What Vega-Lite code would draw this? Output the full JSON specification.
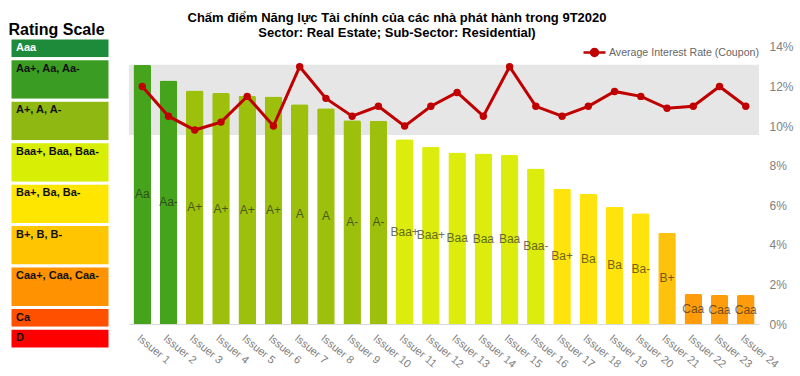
{
  "$schema": "https://vega.github.io/schema/vega-lite/v6.json",
  "padding": {"left": 8, "top": 12, "right": 5, "bottom": 0},
  "background": "white",
  "bounds": "flush",
  "spacing": 19,
  "config": {"font": "Liberation Sans", "view": {"stroke": null}},
  "datasets": {
    "scale": [
      {"ord": 1, "label": "Aaa", "grp": "Aaa", "span": 1},
      {"ord": 2, "label": "Aa+, Aa, Aa-", "grp": "Aa", "span": 2},
      {"ord": 3, "label": "A+, A, A-", "grp": "A", "span": 2},
      {"ord": 4, "label": "Baa+, Baa, Baa-", "grp": "Baa", "span": 2},
      {"ord": 5, "label": "Ba+, Ba, Ba-", "grp": "Ba", "span": 2},
      {"ord": 6, "label": "B+, B, B-", "grp": "B", "span": 2},
      {"ord": 7, "label": "Caa+, Caa, Caa-", "grp": "Caa", "span": 2},
      {"ord": 8, "label": "Ca", "grp": "Ca", "span": 1},
      {"ord": 9, "label": "D", "grp": "D", "span": 1}
    ],
    "band": [{"low": 9.55, "high": 13.1}],
    "issuers": [
      {"issuer": "Issuer 1", "rating": "Aa", "grp": "Aa", "score": 13.1, "rate": 12.0},
      {"issuer": "Issuer 2", "rating": "Aa-", "grp": "Aa", "score": 12.3, "rate": 10.5},
      {"issuer": "Issuer 3", "rating": "A+", "grp": "A", "score": 11.8, "rate": 9.8},
      {"issuer": "Issuer 4", "rating": "A+", "grp": "A", "score": 11.67, "rate": 10.2},
      {"issuer": "Issuer 5", "rating": "A+", "grp": "A", "score": 11.53, "rate": 11.5},
      {"issuer": "Issuer 6", "rating": "A+", "grp": "A", "score": 11.5, "rate": 10.0},
      {"issuer": "Issuer 7", "rating": "A", "grp": "A", "score": 11.1, "rate": 13.0},
      {"issuer": "Issuer 8", "rating": "A", "grp": "A", "score": 10.9, "rate": 11.4},
      {"issuer": "Issuer 9", "rating": "A-", "grp": "A", "score": 10.3, "rate": 10.5},
      {"issuer": "Issuer 10", "rating": "A-", "grp": "A", "score": 10.27, "rate": 11.0},
      {"issuer": "Issuer 11", "rating": "Baa+", "grp": "Baa", "score": 9.33, "rate": 10.0},
      {"issuer": "Issuer 12", "rating": "Baa+", "grp": "Baa", "score": 8.96, "rate": 11.0},
      {"issuer": "Issuer 13", "rating": "Baa", "grp": "Baa", "score": 8.67, "rate": 11.7},
      {"issuer": "Issuer 14", "rating": "Baa", "grp": "Baa", "score": 8.62, "rate": 10.5},
      {"issuer": "Issuer 15", "rating": "Baa", "grp": "Baa", "score": 8.54, "rate": 13.0},
      {"issuer": "Issuer 16", "rating": "Baa-", "grp": "Baa", "score": 7.86, "rate": 11.0},
      {"issuer": "Issuer 17", "rating": "Ba+", "grp": "Ba", "score": 6.83, "rate": 10.5},
      {"issuer": "Issuer 18", "rating": "Ba", "grp": "Ba", "score": 6.58, "rate": 11.0},
      {"issuer": "Issuer 19", "rating": "Ba", "grp": "Ba", "score": 5.93, "rate": 11.75},
      {"issuer": "Issuer 20", "rating": "Ba-", "grp": "Ba", "score": 5.59, "rate": 11.5},
      {"issuer": "Issuer 21", "rating": "B+", "grp": "B", "score": 4.61, "rate": 10.9},
      {"issuer": "Issuer 22", "rating": "Caa", "grp": "Caa", "score": 1.52, "rate": 11.0},
      {"issuer": "Issuer 23", "rating": "Caa", "grp": "Caa", "score": 1.46, "rate": 12.0},
      {"issuer": "Issuer 24", "rating": "Caa", "grp": "Caa", "score": 1.46, "rate": 11.0}
    ]
  },
  "hconcat": [
    {
      "width": 100,
      "height": 311,
      "title": {"text": "Rating Scale", "anchor": "start", "fontSize": 16, "fontWeight": "bold", "color": "#000000", "offset": -1},
      "data": {"name": "scale"},
      "transform": [
        {"stack": "span", "groupby": [], "sort": [{"field": "ord", "order": "ascending"}], "as": ["y0", "y1"]}
      ],
      "layer": [
        {
          "mark": {"type": "rect", "stroke": "white", "strokeWidth": 3},
          "encoding": {
            "x": {"datum": 0, "type": "quantitative", "scale": {"domain": [0, 1], "nice": false}, "axis": null},
            "x2": {"datum": 1},
            "y": {"field": "y0", "type": "quantitative", "scale": {"domain": [0, 15], "reverse": true, "nice": false}, "axis": null},
            "y2": {"field": "y1"},
            "color": {
              "field": "grp", "type": "nominal", "legend": null,
              "scale": {
                "domain": ["Aaa", "Aa", "A", "Baa", "Ba", "B", "Caa", "Ca", "D"],
                "range": ["#1e8b3a", "#3b9c23", "#8fb813", "#d9ee05", "#ffe600", "#ffc600", "#ff9200", "#ff5000", "#ff0000"]
              }
            }
          }
        },
        {
          "mark": {"type": "text", "align": "left", "baseline": "middle", "dx": 6, "dy": 10, "fontSize": 11, "fontWeight": "bold"},
          "encoding": {
            "x": {"datum": 0, "type": "quantitative"},
            "y": {"field": "y0", "type": "quantitative"},
            "text": {"field": "label"},
            "color": {"condition": {"test": "datum.label === 'Aaa'", "value": "#ffffff"}, "value": "#111111"}
          }
        }
      ]
    },
    {
      "width": 630,
      "height": 286,
      "title": {
        "text": ["Chấm điểm Năng lực Tài chính của các nhà phát hành trong 9T2020", "Sector: Real Estate; Sub-Sector: Residential)"],
        "fontSize": 13, "fontWeight": "bold", "color": "#000000", "anchor": "middle", "dx": -47, "offset": -2, "lineHeight": 15
      },
      "layer": [
        {
          "data": {"name": "band"},
          "mark": {"type": "rect", "color": "#e6e6e6"},
          "encoding": {
            "y": {"field": "low", "type": "quantitative", "scale": {"domain": [0, 14.45], "nice": false},
              "axis": {"orient": "right", "values": [0, 2, 4, 6, 8, 10, 12, 14], "labelExpr": "datum.value + '%'", "domain": false, "ticks": false, "grid": false, "title": null, "labelColor": "#808080", "labelFontSize": 12, "labelPadding": 10}},
            "y2": {"field": "high"}
          }
        },
        {
          "data": {"name": "issuers"},
          "mark": {"type": "bar", "cornerRadiusTopLeft": 2, "cornerRadiusTopRight": 2},
          "encoding": {
            "x": {"field": "issuer", "type": "nominal", "sort": null, "scale": {"paddingInner": 0.33, "paddingOuter": 0.17},
              "axis": {"labelAngle": 40, "labelColor": "#808080", "labelFontSize": 11, "ticks": false, "domainColor": "#d9d9d9", "title": null, "labelPadding": 8, "labelAlign": "left", "labelBaseline": "top"}},
            "y": {"field": "score", "type": "quantitative",
              "axis": {"orient": "right", "values": [0, 2, 4, 6, 8, 10, 12, 14], "labelExpr": "datum.value + '%'", "domain": false, "ticks": false, "grid": false, "title": null, "labelColor": "#808080", "labelFontSize": 12, "labelPadding": 10}},
            "color": {
              "field": "grp", "type": "nominal", "legend": null,
              "scale": {"domain": ["Aa", "A", "Baa", "Ba", "B", "Caa"], "range": ["#46a41c", "#9cc00c", "#dcec0c", "#ffe30c", "#ffc20c", "#ff9c0c"]}
            }
          }
        },
        {
          "data": {"name": "issuers"},
          "transform": [{"calculate": "datum.score / 2", "as": "mid"}],
          "mark": {"type": "text", "fontSize": 12, "color": "#222222", "opacity": 0.65, "baseline": "middle"},
          "encoding": {
            "x": {"field": "issuer", "type": "nominal", "sort": null},
            "y": {"field": "mid", "type": "quantitative"},
            "text": {"field": "rating"}
          }
        },
        {
          "data": {"name": "issuers"},
          "mark": {"type": "line", "strokeWidth": 3},
          "encoding": {
            "x": {"field": "issuer", "type": "nominal", "sort": null},
            "y": {"field": "rate", "type": "quantitative"},
            "stroke": {
              "datum": "Average Interest Rate (Coupon)", "type": "nominal",
              "scale": {"range": ["#c00000"]},
              "legend": {"orient": "none", "legendX": 572, "legendY": 2, "title": null, "labelFontSize": 10.6, "labelColor": "#666666",
                "symbolType": "M-1,0L1,0M0.32,0A0.32,0.32,0,1,1,-0.32,0A0.32,0.32,0,1,1,0.32,0",
                "symbolSize": 484, "symbolStrokeWidth": 2.5, "symbolFillColor": "#c00000", "symbolStrokeColor": "#c00000", "labelOffset": 2}
            }
          }
        },
        {
          "data": {"name": "issuers"},
          "mark": {"type": "circle", "size": 55, "color": "#c00000", "opacity": 1},
          "encoding": {
            "x": {"field": "issuer", "type": "nominal", "sort": null},
            "y": {"field": "rate", "type": "quantitative"}
          }
        }
      ]
    }
  ],
  "resolve": {"scale": {"color": "independent", "y": "independent", "x": "independent"}}
}
